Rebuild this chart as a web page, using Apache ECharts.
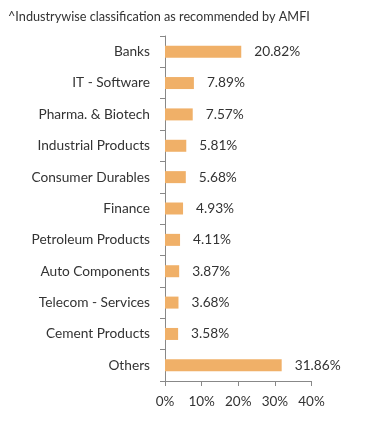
<!DOCTYPE html>
<html><head><meta charset="utf-8">
<script src="https://cdn.jsdelivr.net/npm/echarts@6/dist/echarts.min.js"></script>
<style>html,body{margin:0;padding:0;background:#fff}#c{width:391px;height:434px}</style>
</head><body><div id="c"></div>
<script>
const categories = ["Banks","IT - Software","Pharma. & Biotech","Industrial Products","Consumer Durables","Finance","Petroleum Products","Auto Components","Telecom - Services","Cement Products","Others"];
const values = [20.82,7.89,7.57,5.81,5.68,4.93,4.11,3.87,3.68,3.58,31.86];
const xTicks = [0,10,20,30,40];
const titleText = "^Industrywise classification as recommended by AMFI";
const font = "Lato, 'Open Sans', sans-serif";
const chart = echarts.init(document.getElementById('c'));
chart.setOption({
  animation:false,
  title:{text:titleText,left:3,top:5,textStyle:{fontFamily:font,fontSize:12.7,fontWeight:'normal',color:'#333'}},
  grid:{left:165,top:36,width:146.5,height:345,containLabel:false},
  xAxis:{type:'value',min:xTicks[0],max:xTicks[xTicks.length-1],interval:10,
    axisLine:{show:true,lineStyle:{color:'#888'}},
    axisTick:{show:true,length:5,lineStyle:{color:'#888'}},
    splitLine:{show:false},
    axisLabel:{formatter:v=>v+'%',fontFamily:font,fontSize:13.5,color:'#333',margin:14}},
  yAxis:{type:'category',data:categories,inverse:true,
    axisLine:{show:true,lineStyle:{color:'#888'}},
    axisTick:{show:true,length:5,lineStyle:{color:'#888'}},
    axisLabel:{fontFamily:font,fontSize:13.7,color:'#333',margin:15}},
  series:[{type:'bar',data:values,barWidth:12,
    itemStyle:{color:'#f0b068'},
    label:{show:true,position:'right',distance:13,formatter:p=>p.value.toFixed(2)+'%',fontFamily:font,fontSize:13.7,color:'#333'}}]
});
</script></body></html>
